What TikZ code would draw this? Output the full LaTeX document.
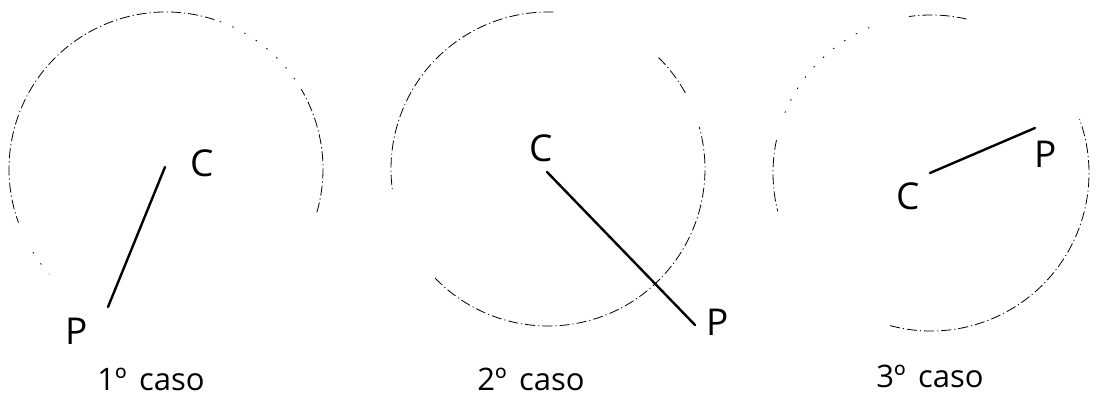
\documentclass[tikz,border=0pt]{standalone}
\usepackage{fontspec}
\setmainfont{Open Sans}
\begin{document}
\begin{tikzpicture}[x=1pt,y=1pt,
  circ/.style={line width=0.8pt, dash pattern=on 10pt off 3pt on 1.2pt off 3pt},
  sparse/.style={line width=0.8pt, dash pattern=on 1.5pt off 12pt},
  seg/.style={line width=2.4pt, line cap=round},
  lab/.style={inner sep=0pt, font=\fontsize{37}{37}\selectfont},
  capt/.style={inner sep=0pt, font=\fontsize{31}{31}\selectfont}]
\useasboundingbox (0,0) rectangle (1096,396);
% centres
\coordinate (o1) at (166,227);
\coordinate (o2) at (548,227);
\coordinate (o3) at (931,223);
% circle 1
\draw[circ] (o1) ++(-16:157) arc[start angle=-16, end angle=30, radius=157];
\draw[sparse] (o1) ++(30:157) arc[start angle=30, end angle=72, radius=157];
\draw[circ] (o1) ++(72:157) arc[start angle=72, end angle=200, radius=157];
\draw[sparse] (o1) ++(212:157) arc[start angle=212, end angle=222, radius=157];
% circle 2
\draw[circ] (o2) ++(224:157) arc[start angle=224, end angle=375.6, radius=157];
\draw[circ] (o2) ++(29:157) arc[start angle=29, end angle=46, radius=157];
\draw[circ] (o2) ++(88:157) arc[start angle=88, end angle=188, radius=157];
% circle 3
\draw[circ] (o3) ++(77:158) arc[start angle=77, end angle=98, radius=158];
\draw[sparse] (o3) ++(113:158) arc[start angle=113, end angle=158, radius=158];
\draw[circ] (o3) ++(168:158) arc[start angle=168, end angle=194, radius=158];
\draw[circ] (o3) ++(255:158) arc[start angle=255, end angle=380, radius=158];
% segments
\coordinate (c1) at (165,229);
\coordinate (p1) at (108,89);
\coordinate (c2) at (547,224);
\coordinate (p2) at (695,71);
\coordinate (c3) at (930,223);
\coordinate (p3) at (1035,268);
\draw[seg] (c1) -- (p1);
\draw[seg] (c2) -- (p2);
\draw[seg] (c3) -- (p3);
% labels
\node[lab] (lc1) at (202,233) {C};
\node[lab] (lp1) at (77,65) {P};
\node[capt] (k1) at (151,17) {1º\hspace{0.4em}caso};
\node[lab] (lc2) at (541,248) {C};
\node[lab] (lp2) at (718,74) {P};
\node[capt] (k2) at (531,17) {2º\hspace{0.4em}caso};
\node[lab] (lc3) at (908,200) {C};
\node[lab] (lp3) at (1046,242) {P};
\node[capt] (k3) at (930,20) {3º\hspace{0.4em}caso};
\end{tikzpicture}
\end{document}
